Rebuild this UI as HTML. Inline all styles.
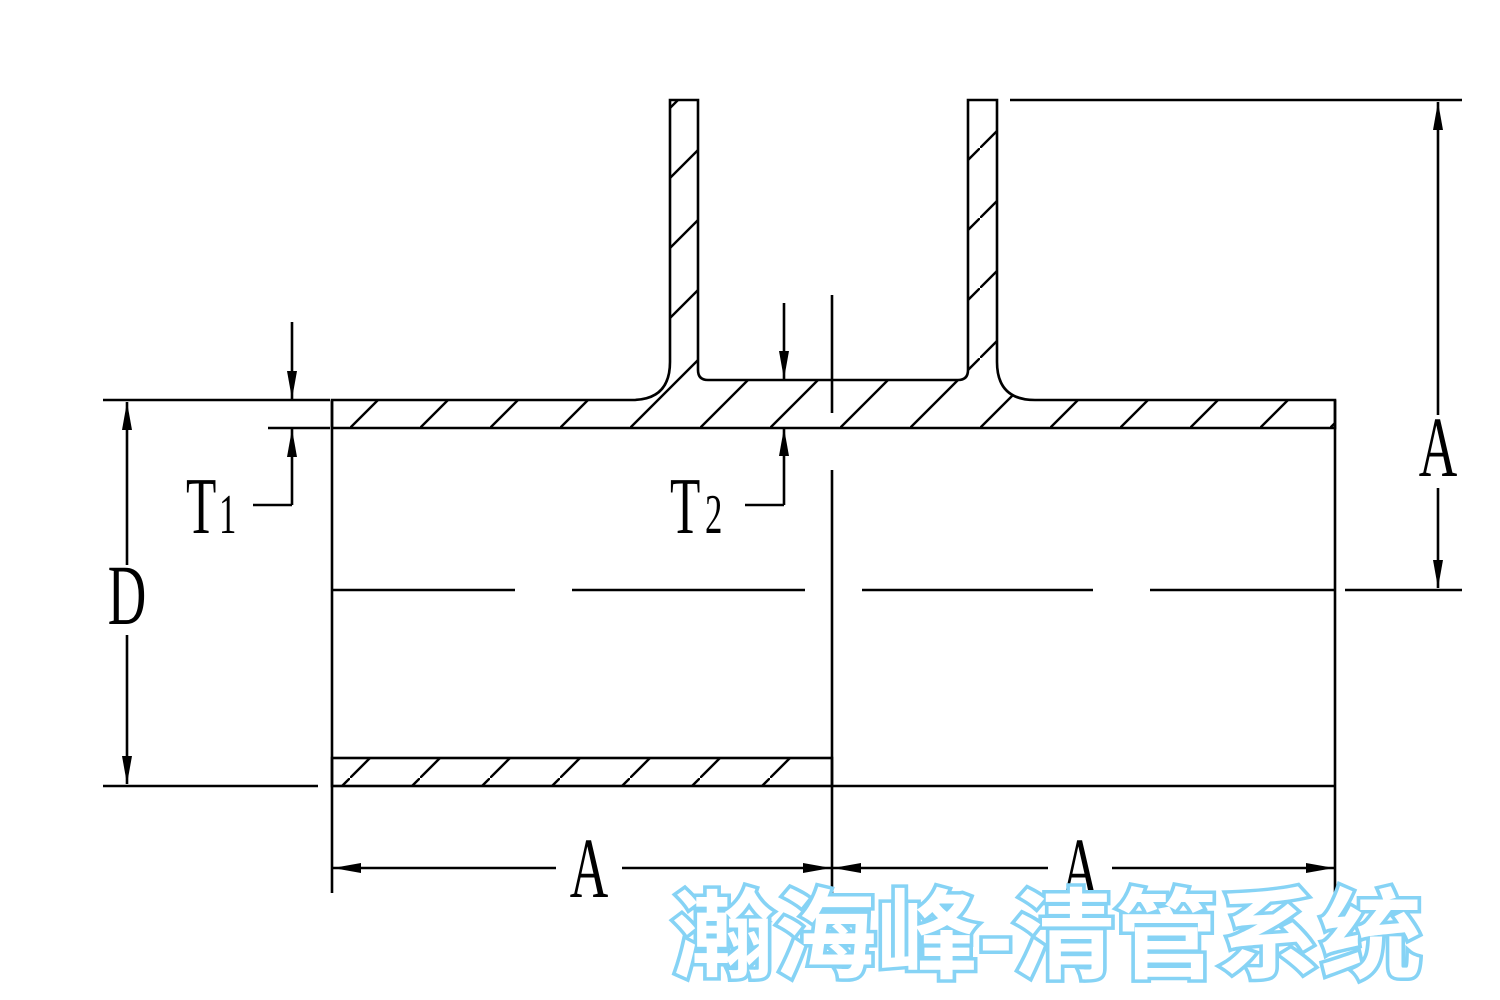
<!DOCTYPE html>
<html><head><meta charset="utf-8"><style>
html,body{margin:0;padding:0;background:#fff;}
svg{display:block}
.t{font-family:"Liberation Serif",serif;fill:#000}
.wm{font-family:"Liberation Sans","Noto Sans CJK SC",sans-serif;font-size:98px;font-weight:bold;fill:#fff;stroke:#86d3f5;stroke-width:7px;paint-order:stroke}
</style></head><body>
<svg width="1500" height="1000" viewBox="0 0 1500 1000" xmlns="http://www.w3.org/2000/svg">
<defs>
<pattern id="h" patternUnits="userSpaceOnUse" width="70" height="70" x="0" y="8">
<line x1="-5" y1="75" x2="75" y2="-5" stroke="#000" stroke-width="2.4"/>
</pattern>
<marker id="a" viewBox="0 0 28 10" refX="28" refY="5" markerWidth="28" markerHeight="10" markerUnits="userSpaceOnUse" orient="auto-start-reverse">
<path d="M0,0 L28,5 L0,10 z" fill="#000"/>
</marker>
</defs>
<g stroke="#000" stroke-width="2.6" fill="none">
<path d="M332,400 L632,400 Q670,400 670,362 L670,100 L698,100 L698,370 Q698,380 708,380 L958,380 Q968,380 968,370 L968,100 L997,100 L997,362 Q997,400 1035,400 L1335,400 L1335,428 L332,428 Z" fill="url(#h)"/>
<rect x="332" y="758" width="500" height="28" fill="url(#h)"/>
<line x1="832" y1="786" x2="1335" y2="786"/>
<line x1="1335" y1="400" x2="1335" y2="786"/>
<line x1="332" y1="400" x2="332" y2="893"/>
<line x1="832" y1="295" x2="832" y2="413"/>
<line x1="832" y1="470" x2="832" y2="893"/>
<line x1="1335" y1="786" x2="1335" y2="893"/>
<line x1="332" y1="590" x2="515" y2="590"/>
<line x1="572" y1="590" x2="805" y2="590"/>
<line x1="862" y1="590" x2="1093" y2="590"/>
<line x1="1150" y1="590" x2="1335" y2="590"/>
<line x1="1345" y1="590" x2="1462" y2="590"/>
<line x1="1010" y1="100" x2="1462" y2="100"/>
<line x1="1438" y1="102" x2="1438" y2="415" marker-start="url(#a)"/>
<line x1="1438" y1="488" x2="1438" y2="588" marker-end="url(#a)"/>
<line x1="103" y1="400" x2="330" y2="400"/>
<line x1="103" y1="786" x2="318" y2="786"/>
<line x1="268" y1="428" x2="330" y2="428"/>
<line x1="127" y1="402" x2="127" y2="565" marker-start="url(#a)"/>
<line x1="127" y1="635" x2="127" y2="784" marker-end="url(#a)"/>
<line x1="292" y1="322" x2="292" y2="399" marker-end="url(#a)"/>
<line x1="292" y1="505" x2="292" y2="429" marker-end="url(#a)"/>
<line x1="292" y1="505" x2="253" y2="505"/>
<line x1="784" y1="303" x2="784" y2="379" marker-end="url(#a)"/>
<line x1="784" y1="428" x2="784" y2="505" marker-start="url(#a)"/>
<line x1="784" y1="505" x2="745" y2="505"/>
<line x1="333" y1="868" x2="556" y2="868" marker-start="url(#a)"/>
<line x1="622" y1="868" x2="831" y2="868" marker-end="url(#a)"/>
<line x1="833" y1="868" x2="1048" y2="868" marker-start="url(#a)"/>
<line x1="1112" y1="868" x2="1334" y2="868" marker-end="url(#a)"/>
</g>
<g class="t">
<text transform="translate(1438,476) scale(0.62,1)" text-anchor="middle" font-size="86">A</text>
<text transform="translate(127,624) scale(0.62,1)" text-anchor="middle" font-size="86">D</text>
<text transform="translate(589,897) scale(0.62,1)" text-anchor="middle" font-size="86">A</text>
<text transform="translate(1080,897) scale(0.62,1)" text-anchor="middle" font-size="86">A</text>
<text transform="translate(186,533) scale(0.62,1)" font-size="80">T</text>
<text transform="translate(219,533) scale(0.62,1)" font-size="56">1</text>
<text transform="translate(670,533) scale(0.62,1)" font-size="80">T</text>
<text transform="translate(705,533) scale(0.62,1)" font-size="56">2</text>
</g>
<text class="wm" x="672" y="970" textLength="750" lengthAdjust="spacingAndGlyphs">瀚海峰-清管系统</text>
</svg>
</body></html>
